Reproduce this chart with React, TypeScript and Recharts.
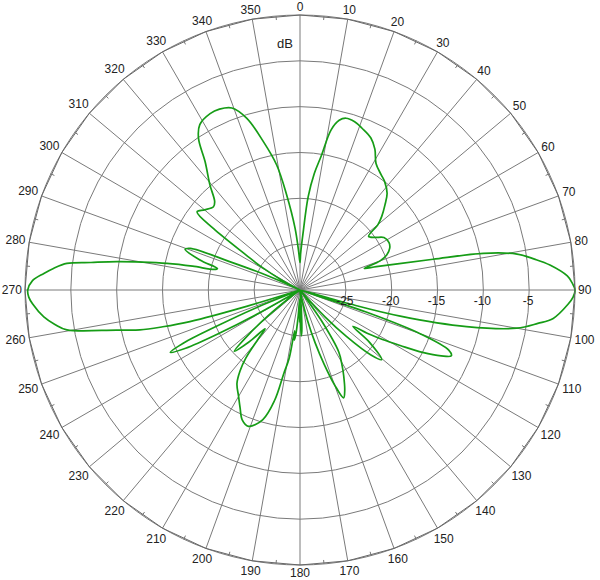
import { RadarChart, Radar, PolarGrid, PolarAngleAxis, PolarRadiusAxis } from "recharts";

// measured pattern: angle (deg, clockwise from top) and relative gain (dB)
const angles = [
  0, 1, 3, 5, 7, 9, 11, 13, 15, 18, 21, 25, 28, 31, 35, 38, 42, 45, 48, 50,
  52, 55, 58, 62, 65, 68, 70, 71.5, 73, 75, 77, 78.7, 80.6, 82.5, 84.3, 87, 88.5, 90, 91.5, 93,
  96.4, 98, 100, 102.4, 104.6, 105.6, 107, 108.5, 110, 112, 113.5, 115, 117, 119, 121, 122.5,
  124.5, 127, 130.5, 132.5, 135, 137, 139, 142, 145, 148, 151, 153, 156, 158, 160, 162, 164,
  166, 168, 170, 174, 176, 177.5, 178.5, 179.5, 180.5, 182, 184, 185.5, 186.5, 187.5, 189, 191,
  193, 196, 200.7, 204, 207, 210, 214, 216.5, 218.5, 220.5, 222, 224.5, 227, 229, 231, 233,
  235, 239, 240.5, 241.8, 243, 244.3, 245.5, 246.5, 248, 250, 252, 253, 254, 255, 256, 257.7,
  260.3, 262, 264, 267, 268.5, 270, 272, 273.7, 275, 276.5, 277.5, 278.8, 280, 281.3, 282.5,
  283.5, 284.5, 286.7, 289.5, 290.8, 292, 293.5, 295, 296, 297.5, 298.6, 301, 303, 305.4,
  307.2, 310, 313.9, 316, 319.4, 323.5, 326.2, 328.8, 333, 336, 339.5, 342.8, 346.1, 349.4,
  352, 355.4, 358,
];
const gainDb = [
  -27, -26, -23.9, -19.8, -17.2, -15.2, -12.2, -11, -10.6, -10.7, -11.1, -11.7, -12.6, -13.9, -14.6, -15, -15.8, -16.9, -18, -18.9,
  -20.5, -20, -19.2, -19, -19.2, -19.8, -20.7, -22.6, -21.3, -19, -15.1, -9.6, -6, -4.2, -2.6, -0.8, -0.3, 0, -0.2, -0.7,
  -2.2, -3.8, -6, -11.4, -18.7, -24.3, -30, -22, -16, -12.5, -12, -13, -15, -17.5, -19.5, -21,
  -23, -20.5, -18.3, -19.5, -22.8, -26, -30, -30, -26, -22, -20.5, -19.5, -18, -17.3, -19, -21.5, -24,
  -26.5, -29, -30, -30, -28, -25.5, -25, -27.5, -26.5, -29, -27, -25, -24.5, -25.5, -22.5, -20.7,
  -17.6, -15.3, -14.1, -14.5, -15.6, -16.6, -17.7, -19, -20.5, -23, -24.3, -22, -20.2, -22.5, -25.5, -28.5,
  -30, -30, -25, -20, -16, -14.3, -16, -20, -25, -30, -30, -24, -17.5, -14.5, -12, -9.5,
  -4.2, -3, -1.9, -0.8, -0.4, -0.3, -0.8, -2, -3, -4.4, -7, -9.8, -12.5, -15.2, -18,
  -20.4, -20.7, -18.6, -16.7, -17.2, -21.8, -25.5, -29, -30, -30, -27.7, -25, -23, -18.4,
  -15.9, -16.4, -16.9, -16.6, -14.9, -12.6, -10.1, -8.9, -8.4, -8.4, -8.8, -10.4, -13.3, -16.1,
  -19.5, -23.2, -25.8,
];

const angleTicks = [0, 10, 20, 30, 40, 50, 60, 70, 80, 90, 100, 110, 120, 130, 140, 150, 160, 170,
  180, 190, 200, 210, 220, 230, 240, 250, 260, 270, 280, 290, 300, 310, 320, 330, 340, 350];
const minorAngleTicks = [5, 15, 25, 35, 45, 55, 65, 75, 85, 95, 105, 115, 125, 135, 145, 155, 165, 175,
  185, 195, 205, 215, 225, 235, 245, 255, 265, 275, 285, 295, 305, 315, 325, 335, 345, 355];
const dbTicks = [-30, -25, -20, -15, -10, -5, 0];
const dbLabels = [-25, -20, -15, -10, -5];
const minorDbTicks = [-29, -28, -27, -26, -24, -23, -22, -21, -19, -18, -17, -16, -14, -13, -12, -11,
  -9, -8, -7, -6, -4, -3, -2, -1];

const data = angles.map((a, i) => ({ angle: a, db: gainDb[i] }));

const FONT = "'Liberation Sans', Arial, sans-serif";
const GREEN = "#169c16";

// closed centripetal catmull-rom through the radar points
function smoothClosedPath(pts: { x: number; y: number }[]) {
  const n = pts.length;
  if (n < 3) return "";
  const get = (i: number) => pts[(i + n) % n];
  const dist = (a: any, b: any) => Math.max(Math.pow(Math.hypot(b.x - a.x, b.y - a.y), 0.5), 1e-4);
  let d = `M${pts[0].x},${pts[0].y}`;
  for (let i = 0; i < n; i++) {
    const p0 = get(i - 1), p1 = get(i), p2 = get(i + 1), p3 = get(i + 2);
    const d01 = dist(p0, p1), d12 = dist(p1, p2), d23 = dist(p2, p3);
    const m1x = d12 * ((p1.x - p0.x) / d01 - (p2.x - p0.x) / (d01 + d12) + (p2.x - p1.x) / d12);
    const m1y = d12 * ((p1.y - p0.y) / d01 - (p2.y - p0.y) / (d01 + d12) + (p2.y - p1.y) / d12);
    const m2x = d12 * ((p2.x - p1.x) / d12 - (p3.x - p1.x) / (d12 + d23) + (p3.x - p2.x) / d23);
    const m2y = d12 * ((p2.y - p1.y) / d12 - (p3.y - p1.y) / (d12 + d23) + (p3.y - p2.y) / d23);
    d += ` C${p1.x + m1x / 3},${p1.y + m1y / 3} ${p2.x - m2x / 3},${p2.y - m2y / 3} ${p2.x},${p2.y}`;
  }
  return d + "Z";
}

function SmoothShape(props: any) {
  return <path d={smoothClosedPath(props.points)} fill="none" stroke={GREEN} strokeWidth={1.7} />;
}

function AngleTick(props: any) {
  const { x, y, payload } = props;
  const v = payload.value;
  const rad = (v * Math.PI) / 180;
  const s = Math.sin(rad);
  const c = Math.cos(rad);
  const label = String(v);
  // push label out so its box just clears the circle
  const off = Math.abs(s) * label.length * 3.4 + Math.abs(c) * 5 - 5;
  return (
    <text x={x + off * s} y={y - off * c} dy="0.35em" textAnchor="middle"
      fontSize={12} fontFamily={FONT} fill="#222">
      {label}
    </text>
  );
}

function MinorAngleTick(props: any) {
  const { x, y, payload } = props;
  const rad = (payload.value * Math.PI) / 180;
  const s = Math.sin(rad);
  const c = Math.cos(rad);
  return <line x1={x - 8 * s} y1={y + 8 * c} x2={x - 12 * s} y2={y + 12 * c} stroke="#777" strokeWidth={1} />;
}

function DbTick(props: any) {
  const { x, y, payload } = props;
  if (!dbLabels.includes(payload.value)) return <g />;
  return (
    <text x={x - 1} y={y + 15} textAnchor="middle" fontSize={12} fontFamily={FONT} fill="#222">
      {payload.value}
    </text>
  );
}

function MinorDbTick(props: any) {
  const { x, y } = props;
  return <line x1={x} y1={y - 2} x2={x} y2={y + 2} stroke="#777" strokeWidth={1} />;
}

export default function App() {
  return (
    <div style={{ position: "absolute", left: 0, top: 0, width: 600, height: 580, background: "#fff" }}>
      <RadarChart width={600} height={580} data={data} cx={300} cy={290}
        innerRadius={0} outerRadius={275} startAngle={90} endAngle={-270}
        margin={{ top: 0, right: 0, bottom: 0, left: 0 }}>
        <PolarGrid gridType="circle" stroke="#7a7a7a" strokeWidth={1} />
        <PolarAngleAxis dataKey="angle" type="number" domain={[0, 360]} ticks={angleTicks}
          axisLine={{ stroke: "#666" }} tickLine={false} tick={AngleTick} />
        <PolarAngleAxis angleAxisId="minor" dataKey="angle" type="number" domain={[0, 360]}
          ticks={minorAngleTicks} axisLine={false} tickLine={false} tick={MinorAngleTick} />
        <PolarRadiusAxis angle={0} type="number" domain={[-30, 0]} ticks={dbTicks}
          axisLine={false} tick={DbTick} />
        <PolarRadiusAxis radiusAxisId="minor" angle={0} type="number" domain={[-30, 0]}
          ticks={minorDbTicks} axisLine={false} tick={MinorDbTick} />
        <Radar dataKey="db" stroke={GREEN} strokeWidth={1.7} fill="none" fillOpacity={0}
          shape={SmoothShape} dot={false} isAnimationActive={false} />
      </RadarChart>
      <div style={{ position: "absolute", left: 277, top: 36, fontSize: 13, fontFamily: FONT, color: "#222" }}>
        dB
      </div>
    </div>
  );
}
